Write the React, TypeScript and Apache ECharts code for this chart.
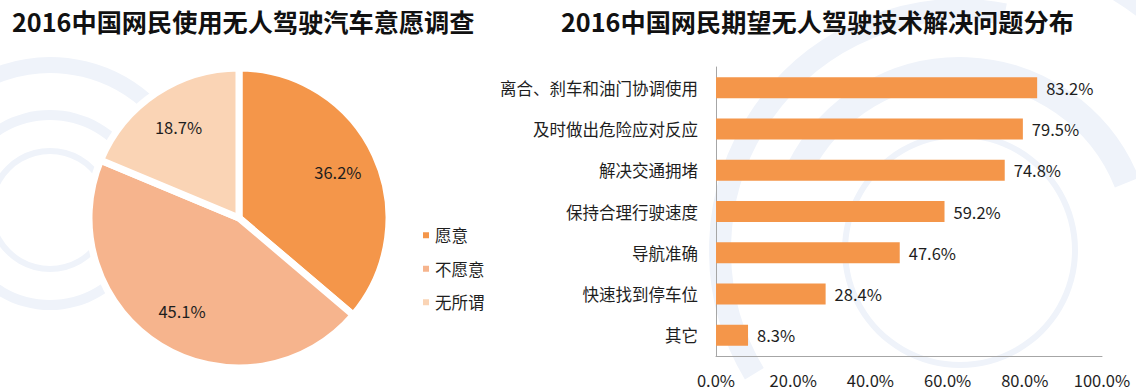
import React, { useEffect, useRef } from "react";
import * as echarts from "echarts";

const pieTitle = "2016中国网民使用无人驾驶汽车意愿调查";
const barTitle = "2016中国网民期望无人驾驶技术解决问题分布";

const pieNames = ["愿意", "不愿意", "无所谓"];
const pieValues = [36.2, 45.1, 18.7];
const pieColors = ["#F4964A", "#F6B48D", "#FAD4B5"];

const barCategories = [
  "离合、刹车和油门协调使用",
  "及时做出危险应对反应",
  "解决交通拥堵",
  "保持合理行驶速度",
  "导航准确",
  "快速找到停车位",
  "其它",
];
const barValues = [83.2, 79.5, 74.8, 59.2, 47.6, 28.4, 8.3];
const xTicks = { min: 0, max: 100, interval: 20 };

const FONT = '"Noto Sans CJK SC", "Noto Sans", sans-serif';
const TEXT = "#1e1e1e";
const BG = "#eff3fa";
const FS = 16.5;

export default function App() {
  const ref = useRef<HTMLDivElement>(null);
  useEffect(() => {
    document.body.style.margin = "0";
    const chart = echarts.init(ref.current!, null, { renderer: "svg" });
    const pieData = pieNames.map((n, i) => ({
      name: n,
      value: pieValues[i],
      itemStyle: { color: pieColors[i] },
    }));
    chart.setOption({
      animation: false,
      backgroundColor: "#ffffff",
      textStyle: { fontFamily: FONT },
      graphic: [
        { type: "ring", z: -10, shape: { cx: 50, cy: 210, r: 62, r0: 56 }, style: { fill: BG } },
        { type: "ring", z: -10, shape: { cx: 50, cy: 210, r: 100, r0: 90 }, style: { fill: BG } },
        { type: "arc", z: -10, shape: { cx: 50, cy: 210, r: 145, startAngle: 3.3, endAngle: 5.5 }, style: { stroke: BG, lineWidth: 16, fill: "none" } },
        { type: "arc", z: -10, shape: { cx: 960, cy: 250, r: 240, startAngle: 2.6, endAngle: 4.9 }, style: { stroke: BG, lineWidth: 22, fill: "none" } },
        { type: "arc", z: -10, shape: { cx: 960, cy: 250, r: 180, startAngle: 3.6, endAngle: 5.9 }, style: { stroke: BG, lineWidth: 26, fill: "none" } },
        { type: "ring", z: -10, shape: { cx: 960, cy: 250, r: 118, r0: 112 }, style: { fill: BG } },
        { type: "arc", z: -10, shape: { cx: 960, cy: 250, r: 300, startAngle: 4.7, endAngle: 6.1 }, style: { stroke: BG, lineWidth: 14, fill: "none" } },
      ],
      title: [
        {
          text: pieTitle,
          left: 12,
          top: 8,
          padding: 0,
          textStyle: { fontSize: 25.2, fontWeight: "bold", color: "#111", fontFamily: FONT },
        },
        {
          text: barTitle,
          left: 561,
          top: 8,
          padding: 0,
          textStyle: { fontSize: 25.2, fontWeight: "bold", color: "#111", fontFamily: FONT },
        },
      ],
      legend: {
        orient: "vertical",
        left: 416,
        top: 222,
        itemWidth: 8,
        itemHeight: 8,
        itemGap: 17,
        icon: "rect",
        textStyle: { fontSize: FS, color: TEXT, fontFamily: FONT },
        data: pieNames.map((n, i) => ({ name: n, itemStyle: { color: pieColors[i] } })),
      },
      grid: { left: 716, right: 34, top: 67, bottom: 36 },
      xAxis: {
        type: "value",
        min: xTicks.min,
        max: xTicks.max,
        interval: xTicks.interval,
        axisLine: { show: true, lineStyle: { color: "#a6a6a6", width: 1 } },
        axisTick: { show: false },
        splitLine: { show: false },
        axisLabel: {
          fontSize: FS,
          color: TEXT,
          margin: 16,
          fontFamily: FONT,
          formatter: (v: number) => v.toFixed(1) + "%",
        },
      },
      yAxis: {
        type: "category",
        inverse: true,
        data: barCategories,
        axisLine: { show: true, lineStyle: { color: "#a6a6a6", width: 1 } },
        axisTick: { show: false },
        axisLabel: { fontSize: FS, color: TEXT, margin: 18, fontFamily: FONT },
      },
      series: [
        {
          type: "pie",
          name: "意愿",
          center: [239, 218],
          radius: 150,
          startAngle: 90,
          clockwise: true,
          silent: true,
          data: pieData,
          itemStyle: { borderColor: "#ffffff", borderWidth: 7 },
          label: { show: false },
          labelLine: { show: false },
        },
        {
          type: "pie",
          name: "标签",
          center: [239, 218],
          radius: 212,
          startAngle: 90,
          clockwise: true,
          silent: true,
          legendHoverLink: false,
          data: pieNames.map((n, i) => ({ name: n, value: pieValues[i] })),
          itemStyle: { color: "rgba(0,0,0,0)", borderWidth: 0 },
          label: {
            show: true,
            position: "inside",
            formatter: (p: any) => p.value.toFixed(1) + "%",
            fontSize: FS,
            color: TEXT,
            fontFamily: FONT,
          },
          labelLine: { show: false },
        },
        {
          type: "bar",
          data: barValues,
          barWidth: 21,
          itemStyle: { color: "#F4964A" },
          label: {
            show: true,
            position: "right",
            distance: 9,
            fontSize: FS,
            color: TEXT,
            fontFamily: FONT,
            formatter: (p: any) => p.value.toFixed(1) + "%",
          },
        },
      ],
    });
    return () => chart.dispose();
  }, []);
  return <div ref={ref} style={{ width: 1136, height: 392 }} />;
}
